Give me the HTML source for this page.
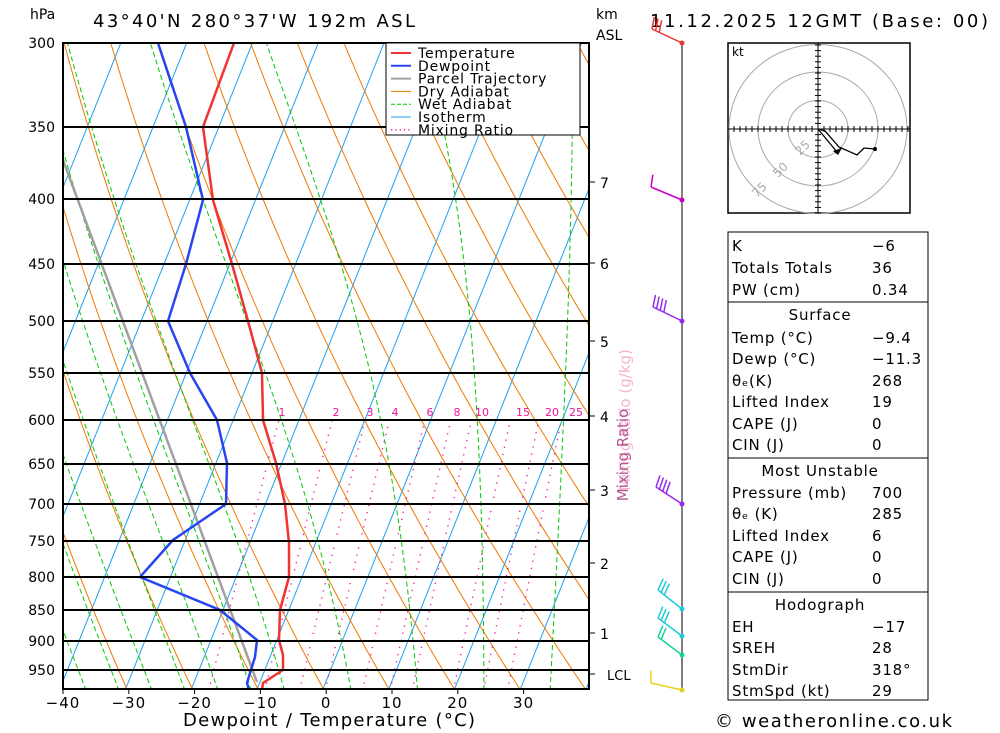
<!DOCTYPE html>
<html><head><meta charset="utf-8">
<style>
body{margin:0;background:#fff;}
svg{display:block;font-family:"DejaVu Sans","Liberation Sans",sans-serif;}
</style></head><body>
<svg id="s" width="1000" height="733" viewBox="0 0 1000 733" xmlns="http://www.w3.org/2000/svg">
<defs><clipPath id="c"><rect x="63" y="43" width="526" height="646"/></clipPath></defs>
<g id="bg" clip-path="url(#c)"></g>
<g id="fg"></g>
</svg>
<script>
var NS="http://www.w3.org/2000/svg";
var bg=document.getElementById('bg'),fg=document.getElementById('fg');
function el(par,tag,at,txt){var e=document.createElementNS(NS,tag);for(var k in at)e.setAttribute(k,at[k]);if(txt!==undefined)e.textContent=txt;par.appendChild(e);return e;}
function Y(p){return 43+544*Math.log(p/300);}
function X(T,p){return 323+6.58*T+0.40*(689-Y(p));}
function pl(par,pts,st){el(par,'polyline',Object.assign({points:pts.map(function(a){return a[0].toFixed(1)+','+a[1].toFixed(1)}).join(' '),fill:'none'},st));}
for(var T=-130;T<=40;T+=10){pl(bg,[[X(T,1000),Y(1000)],[X(T,250),Y(250)]],{stroke:'#1ea0f0','stroke-width':1});}
for(var th=184.5;th<=480;th+=10){var a=[];for(var p=1000;p>=290;p-=10){a.push([X(th*Math.pow(p/1000,0.286)-273.15,p),Y(p)]);}pl(bg,a,{stroke:'#f07800','stroke-width':1});}
function es(t){return 6.112*Math.exp(17.67*t/(t+243.5));}
function moist(t0){var t=t0+273.15,a=[];for(var p=1000;p>=290;p-=2){var tc=t-273.15;a.push([X(tc,p),Y(p)]);var e=es(tc),rs=0.622*e/(p-e);var d=(287*t+2.5e6*rs)/(p*(1004+2.5e6*2.5e6*rs*0.622/(287*t*t)));t-=d*2;}pl(bg,a,{stroke:'#00c800','stroke-width':1,'stroke-dasharray':'5,3'});}
for(var t0=-35;t0<=45;t0+=10)moist(t0);
for(var t0=-30;t0<=-10;t0+=10)moist(t0);
[1,2,3,4,6,8,10,15,20,25].forEach(function(w){var a=[];for(var p=1000;p>=600;p-=10){var e=w*p/(622+w),l=Math.log(e/6.112),td=243.5*l/(17.67-l);a.push([X(td,p),Y(p)]);}pl(bg,a,{stroke:'#f0149b','stroke-width':1.3,'stroke-dasharray':'1.3,6'});});
pl(bg,[[257,682],[63,160]],{stroke:'#a0a0a0','stroke-width':2.5});
pl(bg,[[234,43],[203,127],[213,200],[232,264],[248,321],[262,373],[263,420],[276,463],[285,504],[289,543],[289,577],[280,610],[279,640],[283,655],[283,670],[263,683],[262,690]],{stroke:'#f03232','stroke-width':2.5});
pl(bg,[[158,43],[186,127],[203,200],[186,264],[168,321],[190,373],[217,420],[227,463],[226,504],[173,540],[140,577],[220,610],[257,640],[255,657],[250,673],[247,683],[249,690]],{stroke:'#2846f0','stroke-width':2.5});
[300,350,400,450,500,550,600,650,700,750,800,850,900,950].forEach(function(p){var y=Math.round(Y(p));el(fg,'line',{x1:63,x2:589,y1:y,y2:y,stroke:'#000','stroke-width':2});el(fg,'text',{x:55,y:y+5,'text-anchor':'end','font-size':14},p);});
el(fg,'rect',{x:63,y:43,width:526,height:646,fill:'none',stroke:'#000','stroke-width':2});
[[1,282],[2,336],[3,370],[4,395],[6,430],[8,457],[10,482],[15,523],[20,552],[25,576]].forEach(function(m){el(fg,'text',{x:m[1],y:416,'text-anchor':'middle','font-size':11,fill:'#f0149b'},m[0]);});
for(var T=-40;T<=30;T+=10){var x=63+(T+40)*6.58;el(fg,'line',{x1:x,x2:x,y1:689,y2:694,stroke:'#000'});el(fg,'text',{x:x,y:708,'text-anchor':'middle','font-size':15,'letter-spacing':1},T<0?'\u2212'+(-T):T);}
el(fg,'text',{x:183,y:726,'font-size':18,textLength:292},'Dewpoint / Temperature (\u00b0C)');
el(fg,'text',{x:30,y:19,'font-size':14},'hPa');
el(fg,'text',{x:93,y:27,'font-size':18,textLength:322},'43\u00b040\'N  280\u00b037\'W  192m  ASL');
el(fg,'text',{x:596,y:19,'font-size':14},'km');
el(fg,'text',{x:596,y:40,'font-size':14},'ASL');
el(fg,'text',{x:650,y:27,'font-size':18,textLength:338},'11.12.2025  12GMT  (Base: 00)');
[[7,182],[6,263],[5,341],[4,416],[3,490],[2,563],[1,633]].forEach(function(k){el(fg,'line',{x1:589,x2:595,y1:k[1],y2:k[1],stroke:'#000'});el(fg,'text',{x:600,y:k[1]+6,'font-size':14},k[0]);});
el(fg,'line',{x1:589,x2:595,y1:674,y2:674,stroke:'#000'});el(fg,'text',{x:607,y:680,'font-size':13},'LCL');
el(fg,'text',{x:0,y:0,'font-size':15,fill:'#f5b4d2',transform:'translate(630,420) rotate(-90)','text-anchor':'middle'},'Mixing Ratio (g/kg)');
el(fg,'text',{x:0,y:0,'font-size':15,fill:'#b45a8c',transform:'translate(628,455) rotate(-90)','text-anchor':'middle'},'Mixing Ratio');
el(fg,'rect',{x:386,y:43,width:194,height:92,fill:'#fff',stroke:'#000'});
[['Temperature','#f03232',2],['Dewpoint','#2846f0',2],['Parcel Trajectory','#a0a0a0',2],['Dry Adiabat','#f07800',1],['Wet Adiabat','#00c800',1],['Isotherm','#1ea0f0',1],['Mixing Ratio','#f0149b',1.3]].forEach(function(l,i){var y=53+i*12.8;el(fg,'line',{x1:391,x2:411,y1:y,y2:y,stroke:l[1],'stroke-width':l[2],'stroke-dasharray':i==6?'1.3,3':(i==4?'4,2':'')});el(fg,'text',{x:418,y:y+5,'font-size':14,'letter-spacing':0.8},l[0]);});
el(fg,'line',{x1:682,x2:682,y1:43,y2:689,stroke:'#555','stroke-width':1.5});
function barb(y,x2,y2,c,n){el(fg,'line',{x1:682,y1:y,x2:x2,y2:y2,stroke:c,'stroke-width':1.5});el(fg,'circle',{cx:682,cy:y,r:2.5,fill:c});var dx=(x2-682),dy=(y2-y),L=Math.hypot(dx,dy);var ux=dx/L,uy=dy/L;for(var i=0;i<n;i++){var bx=x2-ux*i*4,by=y2-uy*i*4;el(fg,'line',{x1:bx,y1:by,x2:bx-uy*12+ux*3,y2:by+ux*12+uy*3,stroke:c,'stroke-width':1.5});}}
barb(43,652,29,'#f03232',3);barb(200,651,187,'#c800c8',1);barb(321,653,307,'#9628f0',4);barb(504,656,487,'#9628f0',4);barb(609,658,590,'#1ecbdc',3);barb(636,658,618,'#1ecbdc',3);barb(655,658,637,'#14d29b',2);barb(690,651,683,'#e6d21e',1);
el(fg,'rect',{x:728,y:43,width:182,height:170,fill:'#fff',stroke:'#000','stroke-width':1.5});
[30,60,89].forEach(function(r){el(fg,'ellipse',{cx:818,cy:129,rx:r,ry:r*0.95,fill:'none',stroke:'#aaa'});});
el(fg,'line',{x1:728,x2:910,y1:129,y2:129,stroke:'#000'});el(fg,'line',{x1:818,x2:818,y1:43,y2:213,stroke:'#000'});
for(var i=-15;i<=15;i++){el(fg,'line',{x1:818+i*6,x2:818+i*6,y1:126,y2:132,stroke:'#000'});el(fg,'line',{x1:815,x2:821,y1:129+i*5.6,y2:129+i*5.6,stroke:'#000'});}
el(fg,'text',{x:732,y:56,'font-size':12},'kt');
pl(fg,[[818,129],[825,131],[839,147],[857,155],[864,148],[875,149]],{stroke:'#000','stroke-width':1.3});
pl(fg,[[818,129],[837,152]],{stroke:'#000','stroke-width':1.3});
el(fg,'circle',{cx:875,cy:149,r:2,fill:'#000'});el(fg,'polygon',{points:'833,151 842,148 838,155',fill:'#000'});
el(fg,'text',{x:0,y:0,'font-size':12,fill:'#aaa',transform:'translate(800,156) rotate(-45)'},'25');
el(fg,'text',{x:0,y:0,'font-size':12,fill:'#aaa',transform:'translate(778,178) rotate(-45)'},'50');
el(fg,'text',{x:0,y:0,'font-size':12,fill:'#aaa',transform:'translate(757,198) rotate(-45)'},'75');
el(fg,'rect',{x:728,y:232,width:200,height:468,fill:'#fff',stroke:'#000'});
[302,458,592].forEach(function(y){el(fg,'line',{x1:728,x2:928,y1:y,y2:y,stroke:'#000'});});
var rows=[['K','\u22126',245],['Totals Totals','36',267],['PW (cm)','0.34',289],['Temp (\u00b0C)','\u22129.4',337],['Dewp (\u00b0C)','\u221211.3',358],['\u03b8\u2091(K)','268',380],['Lifted Index','19',401],['CAPE (J)','0',423],['CIN (J)','0',444],['Pressure (mb)','700',492],['\u03b8\u2091 (K)','285',513],['Lifted Index','6',535],['CAPE (J)','0',556],['CIN (J)','0',578],['EH','\u221217',626],['SREH','28',647],['StmDir','318\u00b0',669],['StmSpd (kt)','29',690]];
rows.forEach(function(r){el(fg,'text',{x:732,y:r[2]+6,'font-size':15,'letter-spacing':0.8},r[0]);el(fg,'text',{x:872,y:r[2]+6,'font-size':15,'letter-spacing':0.8},r[1]);});
[['Surface',314],['Most Unstable',470],['Hodograph',604]].forEach(function(h){el(fg,'text',{x:820,y:h[1]+6,'font-size':15,'text-anchor':'middle','letter-spacing':0.8},h[0]);});
el(fg,'text',{x:715,y:727,'font-size':18,textLength:237},'\u00a9 weatheronline.co.uk');
</script>
</body></html>
